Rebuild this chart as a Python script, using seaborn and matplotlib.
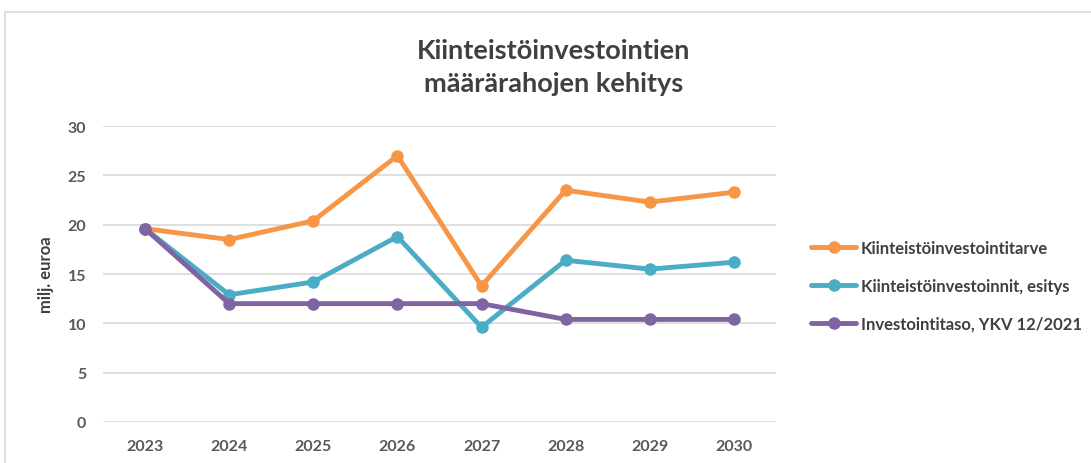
import matplotlib
matplotlib.use("Agg")
import matplotlib.pyplot as plt
from matplotlib.patches import Rectangle
import pandas as pd
import seaborn as sns

vuodet = ["2023", "2024", "2025", "2026", "2027", "2028", "2029", "2030"]
tarve = [19.6, 18.5, 20.4, 27.0, 13.8, 23.5, 22.3, 23.3]
esitys = [19.6, 12.9, 14.2, 18.8, 9.6, 16.4, 15.5, 16.2]
taso = [19.6, 12.0, 12.0, 12.0, 12.0, 10.4, 10.4, 10.4]
sarjat = ["Kiinteistöinvestointitarve", "Kiinteistöinvestoinnit, esitys",
          "Investointitaso, YKV 12/2021"]
varit = ["#F79646", "#4BACC6", "#8064A2"]

df = pd.DataFrame({"vuosi": vuodet * 3,
                   "arvo": tarve + esitys + taso,
                   "sarja": [s for s in sarjat for _ in vuodet]})

sns.set_theme(style="white")
plt.rcParams["font.family"] = ["Lato", "DejaVu Sans"]

fig = plt.figure(figsize=(10.91, 4.64), dpi=100)
fig.patches.append(Rectangle((5 / 1091, -0.01), 1.0, 0.982, transform=fig.transFigure,
                             fill=False, edgecolor="#D9D9D9", linewidth=1.2))
ax = fig.add_axes([0.0944, 0.0884, 0.6168, 0.6376])

sns.lineplot(data=df, x="vuosi", y="arvo", hue="sarja", palette=varit,
             marker="o", markersize=9, markeredgewidth=0, linewidth=3.5,
             sort=False, ax=ax)

ax.set_xlim(-0.5, 7.5)
ax.set_ylim(0, 30)
ax.set_yticks(range(0, 31, 5))
ax.yaxis.grid(True, color="#D9D9D9", linewidth=1.2)
for s in ax.spines.values():
    s.set_visible(False)
ax.tick_params(axis="both", length=0, labelsize=11.5, labelcolor="#595959", pad=12)
for t in ax.get_xticklabels() + ax.get_yticklabels():
    t.set_fontweight("bold")
ax.set_xlabel("")
ax.set_ylabel("milj. euroa", fontsize=12, color="#404040", fontweight="bold", labelpad=10)

fig.text(0.507, 0.855, "Kiinteistöinvestointien\nmäärärahojen kehitys", ha="center",
         va="center", fontsize=19.5, color="#404040", fontweight="bold", linespacing=1.45)

leg = ax.legend(loc="center left", bbox_to_anchor=(1.03, 0.46), frameon=False,
                fontsize=12, handlelength=2.7, handletextpad=0.3, labelspacing=1.3)
for t in leg.get_texts():
    t.set_color("#404040")
    t.set_fontweight("bold")

fig.savefig("out.png", dpi=100)
